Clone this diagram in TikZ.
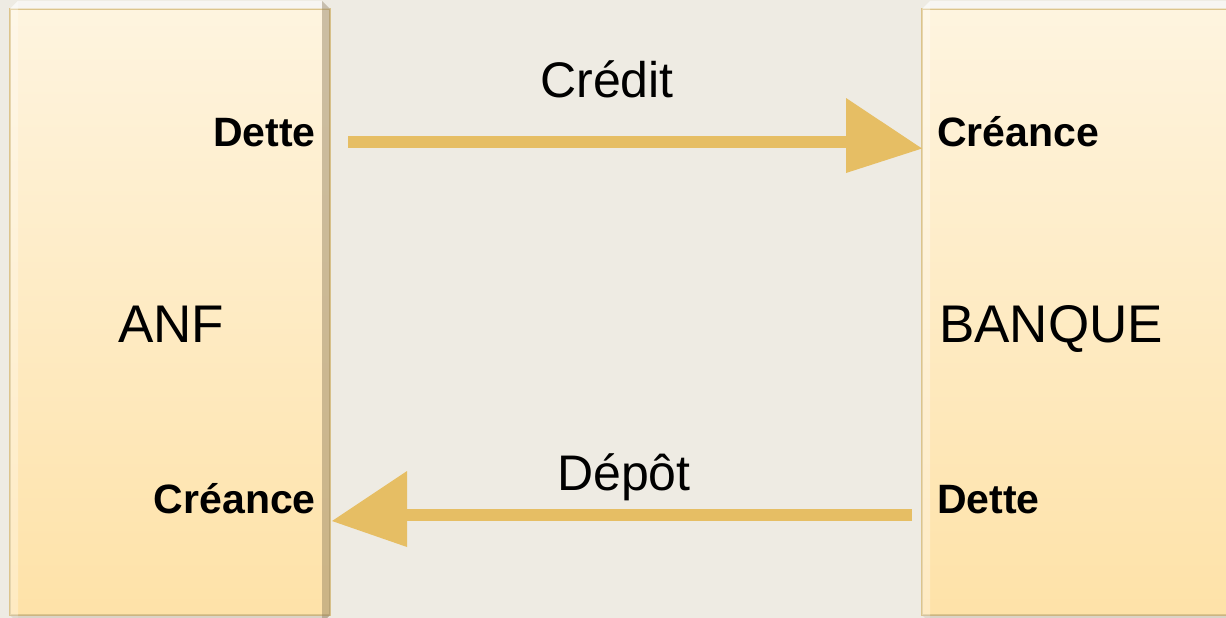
\documentclass[tikz,border=0pt]{standalone}
\usepackage{fontspec}
\setmainfont{Liberation Sans}
\definecolor{bgcol}{HTML}{EEEBE3}
\definecolor{arrowcol}{HTML}{E6BE64}
\definecolor{boxtop}{HTML}{FEF4DF}
\definecolor{boxbot}{HTML}{FEE2A8}
\definecolor{boxrim}{HTML}{DCC48C}
\definecolor{boxshade}{HTML}{8E7C5C}
\tikzset{
  shaft/.style={draw=arrowcol, line width=12.5pt},
  head/.style={fill=arrowcol},
  side/.style={font=\fontsize{41}{41}\selectfont\bfseries, inner sep=0pt},
  title/.style={font=\fontsize{53}{53}\selectfont, inner sep=0pt},
  flowlabel/.style={font=\fontsize{50}{50}\selectfont, inner sep=0pt},
}
% bevelled account box: #1 = lower-left corner, #2 = upper-right corner
\newcommand{\bevelbox}[2]{%
  \path (#1) coordinate (bbA) (#2) coordinate (bbB);
  \fill[top color=boxtop, bottom color=boxbot, draw=boxrim, line width=2pt]
    (bbA) rectangle (bbB);
  % light top and left faces
  \fill[white, opacity=0.55]
    (bbA |- bbB) -- (bbB) -- ([shift={(-8,-8)}]bbB) -- ([shift={(8,-8)}]bbA |- bbB) -- cycle;
  \fill[white, opacity=0.3]
    (bbA) -- (bbA |- bbB) -- ([shift={(8,-8)}]bbA |- bbB) -- ([shift={(8,8)}]bbA) -- cycle;
  % dark bottom and right faces
  \fill[boxshade, opacity=0.2]
    (bbA) -- (bbB |- bbA) -- ([shift={(-8,8)}]bbB |- bbA) -- ([shift={(8,8)}]bbA) -- cycle;
  \fill[boxshade, opacity=0.45]
    (bbB |- bbA) -- (bbB) -- ([shift={(-8,-8)}]bbB) -- ([shift={(-8,8)}]bbB |- bbA) -- cycle;
}
\begin{document}
\begin{tikzpicture}[x=1pt, y=-1pt]
  \useasboundingbox (0,0) rectangle (1226,618);
  \fill[bgcol] (0,0) rectangle (1226,618);

  % the two accounts
  \bevelbox{10,615}{330,9}
  \bevelbox{922,615}{1240,9}

  \node[title, anchor=base west] (anf) at (118,342) {ANF};
  \node[title, anchor=base west] (banque) at (939,342) {BANQUE};

  \node[side, anchor=base east] (anfdette) at (316,146) {Dette};
  \node[side, anchor=base east] (anfcreance) at (316,513) {Créance};
  \node[side, anchor=base west] (bqcreance) at (937,146) {Créance};
  \node[side, anchor=base west] (bqdette) at (937,513) {Dette};

  % flows between the accounts: shaft plus a block head sitting slightly high
  \coordinate (creditstart) at (348,142);
  \coordinate (creditend) at (922,142);
  \coordinate (depotstart) at (912,515);
  \coordinate (depotend) at (332,515);
  \draw[shaft] (creditstart) -- ([xshift=-75]creditend);
  \fill[head] ([shift={(-76,-44)}]creditend) -- ([shift={(-76,31)}]creditend)
    -- ([yshift=-6.5]creditend) -- cycle;
  \draw[shaft] (depotstart) -- ([xshift=74]depotend);
  \fill[head] ([shift={(75,-44)}]depotend) -- ([shift={(75,32)}]depotend)
    -- ([yshift=-6]depotend) -- cycle;

  \node[flowlabel, anchor=base] (credit) at (607,97) {Crédit};
  \node[flowlabel, anchor=base] (depot) at (624,490) {Dépôt};
\end{tikzpicture}
\end{document}
